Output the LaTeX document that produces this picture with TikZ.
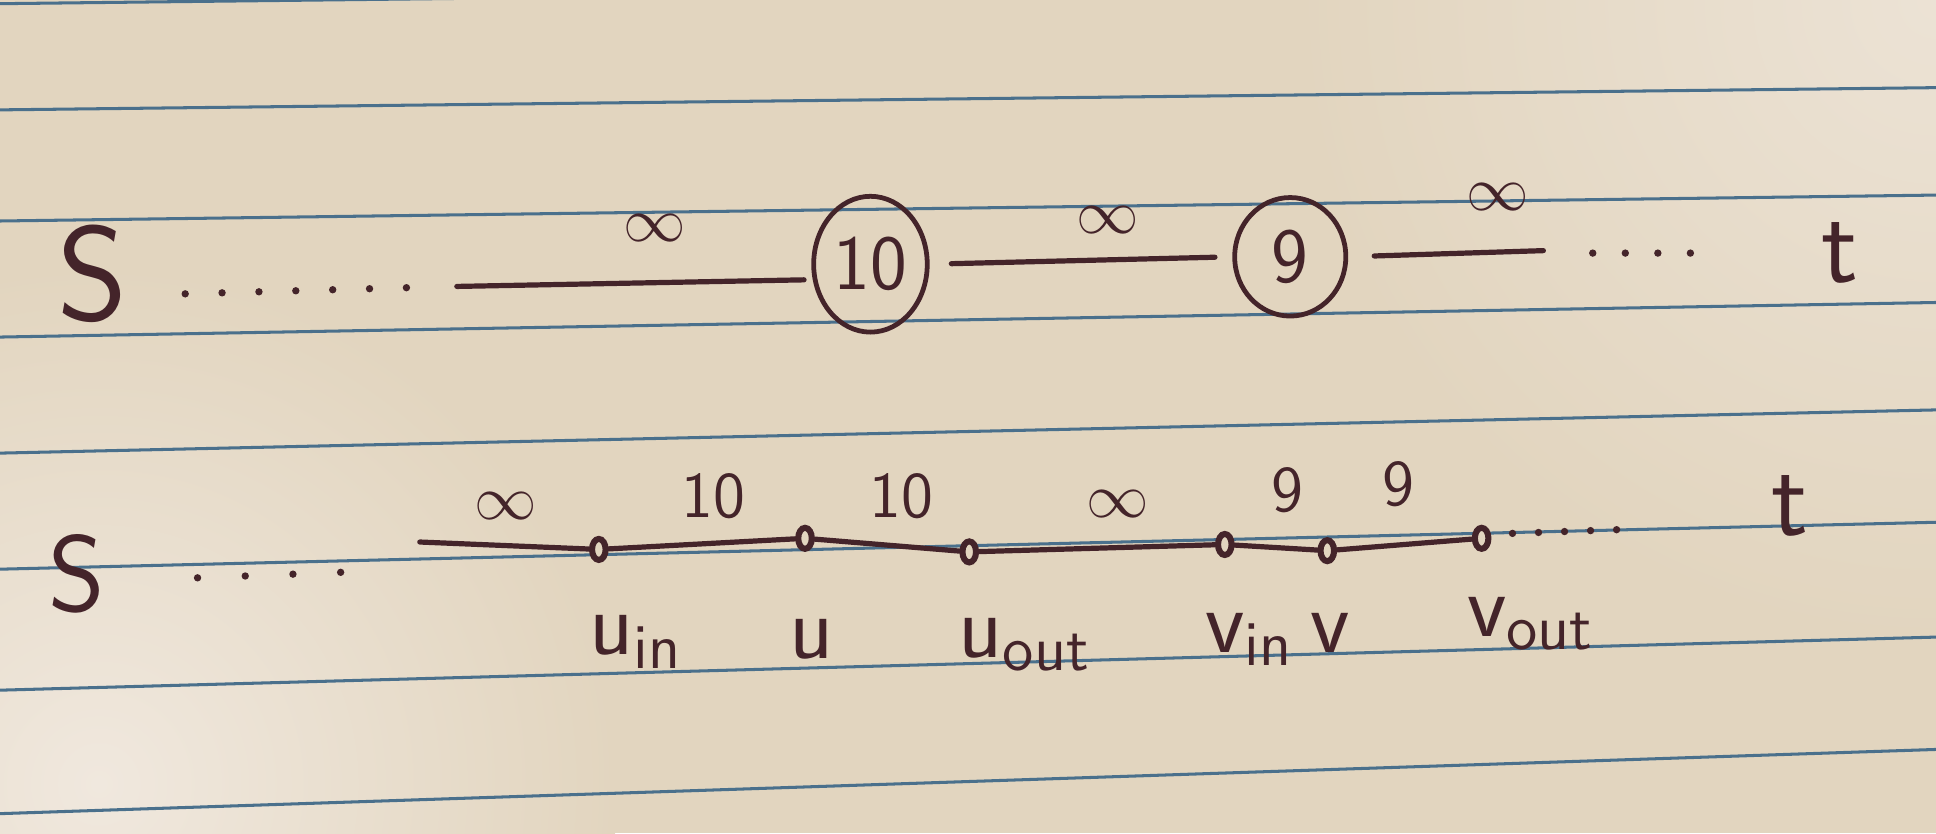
\documentclass[tikz,border=0pt]{standalone}
\usepackage{amsmath}
\usetikzlibrary{shapes.geometric}
\definecolor{paper}{RGB}{226,213,191}
\definecolor{paperlight}{RGB}{240,232,222}
\definecolor{rule}{RGB}{74,112,140}
\definecolor{ink}{RGB}{68,36,42}
\tikzset{
  pen/.style={draw=ink, line width=1.2pt, line cap=round},
  dots/.style={draw=ink, line width=1.7pt, line cap=round, dash pattern=on 0pt off #1},
  ring/.style={ellipse, draw=ink, line width=1.1pt, inner sep=0pt, text=ink,
    font=\sffamily\fontsize{18}{18}\selectfont},
  vert/.style={ellipse, draw=ink, fill=paper, line width=1.4pt, inner sep=0pt,
    minimum width=1.1mm, minimum height=1.7mm},
  hand/.style={text=ink, inner sep=0pt, font=\sffamily\fontsize{#1}{#1}\selectfont},
  ruled/.style={draw=rule, line width=0.7pt}
}

\begin{document}
\begin{tikzpicture}[x=0.1mm, y=0.1mm]
    \useasboundingbox (0,0) rectangle (1568,675);
    \fill[paper] (0,0) rectangle (1568,675);
    \begin{scope}
        \clip (0,0) rectangle (1568,675);
        \shade[inner color=paperlight, outer color=paper] (80,40) circle (420);
        \shade[inner color=paperlight!70!paper, outer color=paper] (1568,675) circle (520);
    \end{scope}
    \foreach \l/\r in {672/690, 586/604, 496/517, 402/430, 308/343, 214/252, 116/159, 16/68}
        \draw[ruled] (0,\l) -- (1568,\r);

    \node[hand=31] (s1) at (75,453) {S};
    \coordinate (d1a) at (150,437);
    \coordinate (d1b) at (330,442);
    \coordinate (a1) at (370,443);
    \node[ring, minimum width=9.2mm, minimum height=11mm] (c10) at (705,461) {10};
    \node[ring, minimum width=9mm, minimum height=9.6mm] (c9) at (1045,467) {9};
    \coordinate (e1) at (1250,472);
    \coordinate (d2a) at (1290,470);
    \coordinate (d2b) at (1370,470);
    \node[hand=25] (t1) at (1490,470) {t};

    \draw[dots=8.5pt] (d1a) -- (d1b);
    \draw[pen, shorten >=2pt] (a1) -- (c10.195);
    \draw[pen, shorten <=5pt, shorten >=4pt] (c10.east) -- (c9.west);
    \draw[pen, shorten <=6pt] (c9.east) -- (e1);
    \draw[dots=7.5pt] (d2a) -- (d2b);

    \node[hand=15] (inf1) at (530,490) {$\infty$};
    \node[hand=15] (inf2) at (897,497) {$\infty$};
    \node[hand=15] (inf3) at (1213,515) {$\infty$};

    \node[hand=25] (s2) at (62,210) {S};
    \coordinate (d3a) at (160,207);
    \coordinate (d3b) at (290,212);
    \coordinate (a2) at (340,236);
    \node[vert] (uin) at (485,230) {};
    \node[vert] (u) at (652,239) {};
    \node[vert] (uout) at (785,228) {};
    \node[vert] (vin) at (992,234) {};
    \node[vert] (v) at (1075,229) {};
    \node[vert] (vout) at (1200,239) {};
    \coordinate (d4a) at (1225,243);
    \coordinate (d4b) at (1310,246);
    \node[hand=25] (t2) at (1450,265) {t};

    \draw[dots=11pt] (d3a) -- (d3b);
    \draw[pen] (a2) -- (uin) -- (u) -- (uout) -- (vin) -- (v) -- (vout);
    \draw[dots=6pt] (d4a) -- (d4b);

    \node[hand=15] (inf4) at (410,265) {$\infty$};
    \node[hand=15] (cap1) at (578,273) {10};
    \node[hand=15] (cap2) at (730,273) {10};
    \node[hand=15] (inf5) at (905,267) {$\infty$};
    \node[hand=15] (cap3) at (1043,278) {9};
    \node[hand=15] (cap4) at (1133,283) {9};

    \node[hand=21] (luin) at (515,155) {u\textsubscript{in}};
    \node[hand=21] (lu) at (657,157) {u};
    \node[hand=21] (luout) at (830,153) {u\textsubscript{out}};
    \node[hand=21] (lvin) at (1012,157) {v\textsubscript{in}};
    \node[hand=21] (lv) at (1077,162) {v};
    \node[hand=21] (lvout) at (1240,170) {v\textsubscript{out}};
\end{tikzpicture}
\end{document}
